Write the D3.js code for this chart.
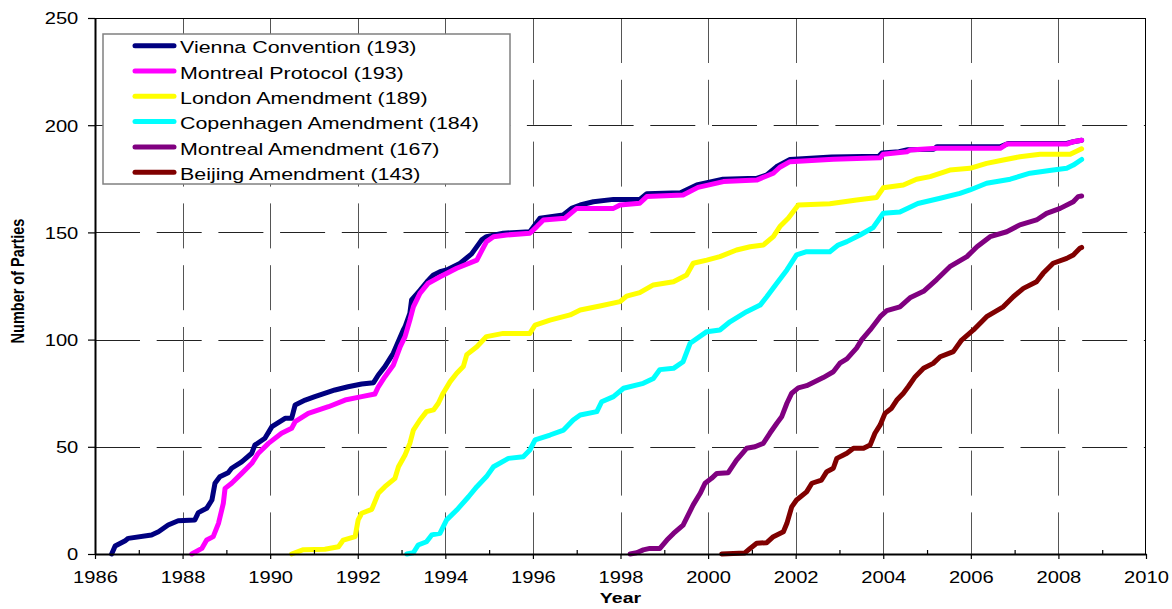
<!DOCTYPE html>
<html>
<head>
<meta charset="utf-8">
<script src="https://cdn.jsdelivr.net/npm/d3@7"></script>
<style>
  html, body { margin: 0; padding: 0; background: #fff; }
  svg { display: block; font-family: "Liberation Sans", Arial, sans-serif; }
</style>
</head>
<body>
<svg id="chart" width="1172" height="609"></svg>
<script>
// ---------- data (year, number of parties) ----------
const viennaConvention = [[1986.38,0],[1986.46,3.7],[1986.69,6.2],[1986.76,7.3],[1987.29,8.9],[1987.45,10.4],[1987.67,13.5],[1987.90,15.5],[1988.28,15.9],[1988.36,19.3],[1988.55,21.3],[1988.67,25.2],[1988.74,33],[1988.85,36],[1989.04,37.9],[1989.12,40],[1989.35,43],[1989.58,47],[1989.65,50.8],[1989.88,54],[1990.04,59.4],[1990.34,63.3],[1990.49,63.3],[1990.57,69.5],[1990.80,71.8],[1991.02,73.4],[1991.48,76.5],[1991.78,78],[1992.09,79.3],[1992.36,79.9],[1992.47,83.5],[1992.62,87.4],[1992.81,93.6],[1993.04,104.5],[1993.08,106],[1993.19,112.3],[1993.23,118.5],[1993.42,123],[1993.58,127],[1993.72,130],[1993.88,131.7],[1994.03,132.5],[1994.34,135.6],[1994.60,140],[1994.83,146.5],[1994.94,148],[1995.32,149.6],[1995.93,150.3],[1996.16,156.6],[1996.69,158.1],[1996.88,161.2],[1997.08,162.8],[1997.38,164.3],[1997.84,165.4],[1998.44,165.4],[1998.60,168],[1999.37,168.5],[1999.74,172.1],[2000.34,174.8],[2001.11,175.2],[2001.34,176.8],[2001.56,180.6],[2001.87,184],[2002.82,185.2],[2003.90,185.5],[2003.97,187],[2004.36,187.6],[2004.56,188.6],[2005.15,188.8],[2005.23,190],[2006.68,190],[2006.85,191.5],[2008.19,191.5],[2008.34,192.3],[2008.53,193]];
const montrealProtocol = [[1988.21,0],[1988.44,2.6],[1988.55,6.5],[1988.70,8.1],[1988.82,14.3],[1988.93,23.6],[1988.97,30.6],[1989.12,33],[1989.35,37.6],[1989.58,42.3],[1989.73,47],[1989.96,51.6],[1990.26,56.3],[1990.49,58.6],[1990.57,61.7],[1990.87,65.6],[1991.33,68.7],[1991.71,71.8],[1992.09,73.4],[1992.39,74.6],[1992.47,78],[1992.62,82.7],[1992.81,88],[1992.97,96.7],[1993.08,101.4],[1993.19,109.1],[1993.27,115.3],[1993.42,121.6],[1993.61,126.3],[1993.88,129.3],[1994.26,133.3],[1994.72,137.1],[1994.94,145.7],[1995.10,148],[1995.40,148.8],[1995.93,149.6],[1996.09,152.7],[1996.24,155.8],[1996.73,156.6],[1997.00,161.2],[1997.84,161.2],[1997.99,162.8],[1998.44,163.6],[1998.60,166.7],[1999.43,167.4],[1999.77,171],[2000.35,173.7],[2001.11,174.4],[2001.49,177.6],[2001.64,180.4],[2001.87,183],[2002.86,184.1],[2003.93,184.8],[2004.00,186.5],[2004.54,187.6],[2004.61,188.4],[2005.22,189.2],[2006.67,189.2],[2006.82,191.2],[2008.19,191.2],[2008.34,192.3],[2008.53,193]];
const londonAmendment = [[1990.49,0],[1990.76,2],[1991.25,2.2],[1991.56,3.4],[1991.67,6.5],[1991.94,8.1],[1992.01,15.9],[1992.09,19],[1992.32,20.8],[1992.47,28.3],[1992.62,31.4],[1992.85,35.3],[1992.93,40.7],[1993.08,46.2],[1993.19,51.6],[1993.27,57.8],[1993.42,62.5],[1993.57,66.4],[1993.73,67.2],[1993.84,70.3],[1993.95,75],[1994.11,80.4],[1994.26,84.3],[1994.41,87.4],[1994.49,93],[1994.72,96.7],[1994.94,101.4],[1995.32,102.9],[1995.93,102.9],[1996.05,106.8],[1996.39,109.1],[1996.85,111.5],[1997.08,113.8],[1997.53,115.7],[1997.99,117.7],[1998.14,120.3],[1998.44,121.9],[1998.75,125.5],[1999.21,127],[1999.51,130.1],[1999.66,135.6],[1999.97,137.1],[2000.27,138.7],[2000.65,141.8],[2000.96,143.3],[2001.26,144.1],[2001.49,148],[2001.64,152.7],[2001.83,156.6],[2002.06,162.8],[2002.78,163.4],[2003.39,165.1],[2003.85,166.3],[2004.00,170.8],[2004.46,172.1],[2004.76,174.8],[2005.07,176],[2005.52,179.1],[2005.98,179.9],[2006.36,182.2],[2006.74,183.8],[2007.12,185.3],[2007.58,186.4],[2008.27,186.4],[2008.53,189]];
const copenhagenAmendment = [[1993.12,0],[1993.27,0.6],[1993.38,4.2],[1993.57,5.7],[1993.69,8.9],[1993.88,9.7],[1994.03,15.9],[1994.26,20.5],[1994.53,26.7],[1994.72,31.4],[1994.94,36.1],[1995.10,40.7],[1995.44,44.6],[1995.78,45.4],[1995.93,48.5],[1996.05,53.2],[1996.39,55.5],[1996.70,57.8],[1996.92,62.5],[1997.08,64.8],[1997.46,66.4],[1997.57,71],[1997.84,73.4],[1998.07,77.3],[1998.52,79.6],[1998.75,81.9],[1998.90,86],[1999.21,86.6],[1999.43,89.7],[1999.59,98.3],[1999.97,103.7],[2000.27,104.5],[2000.50,108.3],[2000.88,113],[2001.19,116.1],[2001.34,120],[2001.57,126.3],[2001.80,132.5],[2002.02,139.5],[2002.25,141],[2002.78,141],[2002.97,144.1],[2003.17,145.7],[2003.47,148.8],[2003.77,152.3],[2004.00,158.9],[2004.38,159.5],[2004.79,163.5],[2005.30,165.9],[2005.75,168.2],[2005.98,169.8],[2006.36,172.9],[2006.90,174.8],[2007.35,177.6],[2007.88,179.1],[2008.19,179.9],[2008.34,181.4],[2008.53,184]];
const montrealAmendment = [[1998.22,0],[1998.37,0.6],[1998.52,1.9],[1998.67,2.6],[1998.90,2.6],[1999.06,6.5],[1999.21,9.6],[1999.43,13.5],[1999.66,22.9],[1999.82,28.3],[1999.93,33],[2000.08,35.3],[2000.20,37.6],[2000.46,37.9],[2000.65,43.8],[2000.88,49.3],[2001.07,50],[2001.26,51.6],[2001.41,56.3],[2001.57,61],[2001.68,64],[2001.80,70.3],[2001.91,75],[2002.06,77.5],[2002.25,78.5],[2002.63,82.3],[2002.86,85],[2003.01,89],[2003.17,91],[2003.39,96],[2003.51,100],[2003.70,104.5],[2003.93,110.7],[2004.08,113.5],[2004.38,115.3],[2004.61,119.5],[2004.92,122.5],[2005.22,128],[2005.52,134],[2005.91,138.7],[2006.14,143.3],[2006.44,148],[2006.82,150.3],[2007.12,153.5],[2007.50,155.8],[2007.73,158.9],[2008.04,161.2],[2008.34,164.3],[2008.45,166.7],[2008.53,167]];
const beijingAmendment = [[2000.31,0],[2000.84,0.5],[2000.96,2.6],[2001.11,5],[2001.34,5.3],[2001.49,8.1],[2001.72,10.4],[2001.80,14.3],[2001.91,22],[2002.02,25.2],[2002.25,29],[2002.37,33],[2002.59,34.5],[2002.71,38.4],[2002.86,40],[2002.94,44.6],[2003.17,47],[2003.32,49.3],[2003.55,49.3],[2003.70,50.8],[2003.81,56.3],[2003.93,60.2],[2004.04,65.6],[2004.19,68],[2004.31,71.8],[2004.46,75],[2004.57,78],[2004.73,82.7],[2004.92,86.6],[2005.14,88.9],[2005.30,92],[2005.60,94.4],[2005.79,99.8],[2006.06,104.5],[2006.36,110.7],[2006.74,115.3],[2006.97,120],[2007.20,123.9],[2007.50,127],[2007.65,130.9],[2007.88,135.6],[2008.19,137.9],[2008.34,139.5],[2008.49,142.6],[2008.53,143]];

const seriesNames = ["Vienna Convention (193)", "Montreal Protocol (193)", "London Amendment (189)",
                     "Copenhagen Amendment (184)", "Montreal Amendment (167)", "Beijing Amendment (143)"];
const seriesData = [viennaConvention, montrealProtocol, londonAmendment,
                    copenhagenAmendment, montrealAmendment, beijingAmendment];
const seriesColors = ["#000080", "#FF00FF", "#FFFF00", "#00FFFF", "#800080", "#800000"];

const xTicks = [1986, 1988, 1990, 1992, 1994, 1996, 1998, 2000, 2002, 2004, 2006, 2008, 2010];
const xMinorTicks = [1987, 1989, 1991, 1993, 1995, 1997, 1999, 2001, 2003, 2005, 2007, 2009];
const yTicks = [0, 50, 100, 150, 200, 250];
const xTitle = "Year";
const yTitle = "Number of Parties";

// ---------- layout ----------
const L = 95, R = 1146, T = 18, B = 554;
const SX = 1.26; // horizontal text stretch of the original picture

const svg = d3.select("#chart");
const x = d3.scaleLinear().domain([1986, 2010]).range([L, R]);
const y = d3.scaleLinear().domain([0, 250]).range([B, T]);

// gridlines
const grid = svg.append("g");
grid.selectAll("line.h").data(yTicks.filter(v => v > 0 && v < 250)).enter().append("line")
  .attr("x1", L).attr("x2", R)
  .attr("y1", d => Math.round(y(d)) + 0.5).attr("y2", d => Math.round(y(d)) + 0.5)
  .attr("stroke", "#222").attr("stroke-width", 1)
  .attr("stroke-dasharray", "45,16.7");
grid.selectAll("line.v").data(xTicks.filter(v => v > 1986 && v < 2010)).enter().append("line")
  .attr("x1", d => Math.round(x(d)) + 0.5).attr("x2", d => Math.round(x(d)) + 0.5)
  .attr("y1", T).attr("y2", B)
  .attr("stroke", "#555").attr("stroke-width", 1)
  .attr("stroke-dasharray", "45,16.8");

// plot border (top/right)
svg.append("rect").attr("x", L + 0.5).attr("y", T + 0.5)
  .attr("width", R - L - 1).attr("height", B - T)
  .attr("fill", "none").attr("stroke", "#000").attr("stroke-width", 1);

// series lines
const line = d3.line().x(d => x(d[0])).y(d => y(d[1]));
svg.append("g").selectAll("path").data(seriesData).enter().append("path")
  .attr("d", line)
  .attr("fill", "none")
  .attr("stroke", (d, i) => seriesColors[i])
  .attr("stroke-width", 5)
  .attr("stroke-linejoin", "round")
  .attr("stroke-linecap", "round");

// axes
const xAxis = svg.append("g").attr("transform", `translate(0,${B})`)
  .call(d3.axisBottom(x).tickValues(xTicks).tickFormat(d3.format("d")).tickSize(5).tickSizeOuter(0));
const xMinor = svg.append("g").attr("transform", `translate(0,${B})`)
  .call(d3.axisBottom(x).tickValues(xMinorTicks).tickFormat("").tickSize(-4).tickSizeOuter(0));
xMinor.select(".domain").remove();
const yAxis = svg.append("g").attr("transform", `translate(${L},0)`)
  .call(d3.axisLeft(y).tickValues(yTicks).tickSize(7).tickSizeOuter(0));

[xAxis, xMinor, yAxis].forEach(g => {
  g.selectAll(".domain").attr("stroke", "#000").attr("stroke-width", 2);
  g.selectAll(".tick line").attr("stroke", "#000").attr("stroke-width", 1.2);
});
xAxis.selectAll(".tick text")
  .attr("y", 29).attr("dy", 0)
  .attr("transform", `scale(${SX},1)`)
  .attr("font-size", 16).attr("fill", "#000")
  .attr("font-family", '"Liberation Sans", Arial, sans-serif');
yAxis.selectAll(".tick text")
  .attr("x", -16.7 / SX).attr("dy", 0).attr("y", 5.8)
  .attr("transform", `scale(${SX},1)`)
  .attr("font-size", 16).attr("fill", "#000")
  .attr("font-family", '"Liberation Sans", Arial, sans-serif');

// axis titles
svg.append("text").text(xTitle)
  .attr("transform", `translate(${(L + R) / 2},603) scale(${SX},1)`)
  .attr("text-anchor", "middle").attr("font-size", 15.5).attr("font-weight", "bold");
svg.append("text").text(yTitle)
  .attr("transform", `translate(24,281) scale(${SX},1) rotate(-90)`)
  .attr("text-anchor", "middle").attr("font-size", 14.5).attr("font-weight", "bold");

// legend
const leg = svg.append("g");
leg.append("rect").attr("x", 103).attr("y", 34).attr("width", 407).attr("height", 150)
  .attr("fill", "#fff").attr("stroke", "#808080").attr("stroke-width", 1.5);
const rows = leg.selectAll("g.row").data(seriesNames).enter().append("g")
  .attr("transform", (d, i) => `translate(0,${53.3 + i * 25.3})`);
rows.append("line").attr("x1", 135).attr("x2", 174).attr("y1", -7.6).attr("y2", -7.6)
  .attr("stroke", (d, i) => seriesColors[i]).attr("stroke-width", 5).attr("stroke-linecap", "round");
rows.append("text").text(d => d)
  .attr("transform", `translate(180,0) scale(${SX},1)`)
  .attr("font-size", 17).attr("fill", "#000");
</script>
</body>
</html>
